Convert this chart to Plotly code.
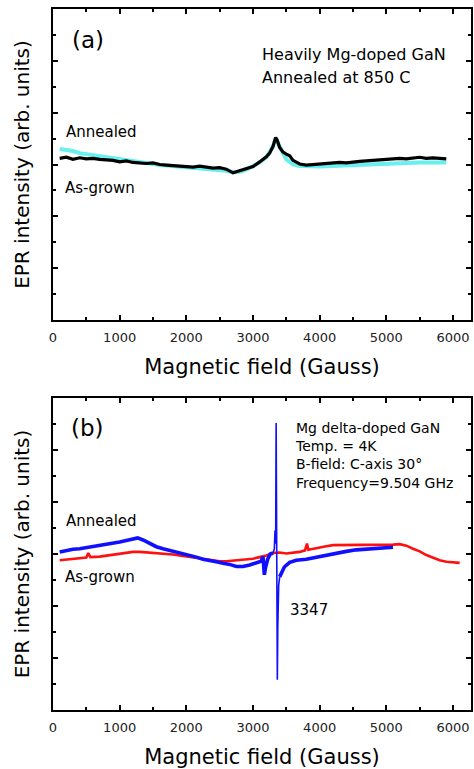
import plotly.graph_objects as go

# ---------------- Panel (a): Heavily Mg-doped GaN ----------------
a_field_asgrown = [100, 200, 300, 400, 500, 600, 700, 800, 900, 1000, 1100, 1200, 1300, 1400,
                   1500, 1600, 1700, 1800, 1900, 2000, 2100, 2200, 2300, 2400, 2500, 2600, 2700,
                   2800, 2900, 3000, 3100, 3200, 3250, 3300, 3340, 3360, 3400, 3450, 3500, 3550,
                   3600, 3700, 3800, 3900, 4000, 4100, 4200, 4300, 4400, 4500, 4600, 4700, 4800,
                   4900, 5000, 5100, 5200, 5300, 5400, 5500, 5600, 5700, 5800, 5900]
a_asgrown = [3.12, 3.14, 3.10, 3.13, 3.11, 3.12, 3.10, 3.09, 3.08, 3.05, 3.07, 3.04, 3.03, 3.02,
             3.03, 3.00, 2.99, 2.98, 2.97, 2.96, 2.95, 2.97, 2.95, 2.93, 2.94, 2.91, 2.84,
             2.88, 2.91, 2.96, 3.05, 3.15, 3.22, 3.35, 3.52, 3.48, 3.33, 3.24, 3.20, 3.17,
             3.08, 3.01, 2.99, 3.00, 3.01, 3.02, 3.03, 3.04, 3.03, 3.05, 3.06, 3.07, 3.08,
             3.09, 3.10, 3.11, 3.12, 3.11, 3.13, 3.14, 3.12, 3.13, 3.12, 3.11]

a_field_annealed = [100, 200, 300, 400, 500, 600, 700, 800, 900, 1000, 1100, 1200, 1300, 1400,
                    1500, 1600, 1700, 1800, 1900, 2000, 2200, 2400, 2600, 2700, 2800, 2900,
                    3000, 3100, 3200, 3300, 3340, 3380, 3450, 3500, 3600, 3700, 4000, 4500,
                    5000, 5500, 5900]
a_annealed = [3.30, 3.28, 3.26, 3.22, 3.20, 3.18, 3.17, 3.14, 3.12, 3.10, 3.08, 3.06, 3.04, 3.02,
              3.00, 2.99, 2.98, 2.97, 2.96, 2.95, 2.93, 2.90, 2.88, 2.85, 2.86, 2.90,
              2.96, 3.04, 3.14, 3.35, 3.50, 3.40, 3.20, 3.10, 3.00, 2.97, 2.96, 2.99,
              3.02, 3.04, 3.04]

# ---------------- Panel (b): Mg delta-doped GaN ----------------
b_field_annealed = [100, 200, 300, 400, 500, 600, 700, 800, 900, 1000, 1100, 1200, 1270, 1350,
                    1450, 1550, 1650, 1750, 1850, 1950, 2050, 2150, 2250, 2350, 2450, 2550,
                    2650, 2750, 2850, 2950, 3050, 3120, 3150, 3170, 3190, 3220, 3260, 3300,
                    3320, 3330, 3340, 3347, 3356, 3365, 3372, 3385, 3400, 3430, 3470, 3550,
                    3650, 3800, 3950, 4100, 4250, 4400, 4550, 4700, 4850, 5000, 5100]
b_annealed = [3.04, 3.07, 3.09, 3.10, 3.12, 3.14, 3.17, 3.19, 3.21, 3.23, 3.26, 3.29, 3.31, 3.27,
              3.20, 3.14, 3.10, 3.07, 3.04, 3.00, 2.97, 2.94, 2.90, 2.88, 2.85, 2.82,
              2.80, 2.76, 2.76, 2.79, 2.83, 2.86, 2.95, 2.60, 2.75, 2.90, 3.00, 3.02,
              3.10, 3.45, 3.20, 5.52, 3.00, 0.58, 1.60, 2.40, 2.56, 2.66, 2.75, 2.84,
              2.88, 2.90, 2.94, 2.98, 3.02, 3.05, 3.08, 3.09, 3.10, 3.11, 3.13]

b_field_asgrown = [100, 200, 300, 400, 500, 530, 560, 700, 800, 900, 1000, 1100, 1200, 1300,
                   1400, 1500, 1600, 1700, 1800, 1900, 2000, 2100, 2200, 2300, 2400, 2500,
                   2600, 2700, 2800, 2900, 3000, 3100, 3200, 3300, 3400, 3500, 3600, 3700,
                   3780, 3810, 3830, 3900, 4000, 4100, 4200, 4400, 4600, 4800, 5000, 5100,
                   5200, 5300, 5400, 5500, 5600, 5700, 5800, 5900, 6000, 6100]
b_asgrown = [2.88, 2.89, 2.90, 2.91, 2.93, 3.02, 2.94, 2.95, 2.97, 2.98, 3.00, 3.02, 3.04, 3.04,
             3.03, 3.03, 3.02, 3.00, 2.99, 2.97, 2.95, 2.93, 2.91, 2.89, 2.87, 2.86,
             2.86, 2.87, 2.88, 2.89, 2.91, 2.94, 2.97, 3.02, 3.03, 3.01, 3.02, 3.04,
             3.07, 3.20, 3.08, 3.10, 3.13, 3.15, 3.17, 3.17, 3.17, 3.17, 3.17, 3.18,
             3.19, 3.16, 3.10, 3.05, 2.98, 2.93, 2.88, 2.85, 2.84, 2.83]

b_info_lines = ["Mg delta-doped GaN", "Temp. = 4K", "B-field: C-axis 30°", "Frequency=9.504 GHz"]

x_ticks = [0, 1000, 2000, 3000, 4000, 5000, 6000]
x_range = [0, 6270]
y_range = [0, 6]

FONT = "DejaVu Sans"

fig = go.Figure()
fig.add_trace(go.Scatter(x=a_field_annealed, y=a_annealed, mode="lines",
                         line=dict(color="#66f0f0", width=4), xaxis="x", yaxis="y"))
fig.add_trace(go.Scatter(x=a_field_asgrown, y=a_asgrown, mode="lines",
                         line=dict(color="black", width=3.2), xaxis="x", yaxis="y"))
fig.add_trace(go.Scatter(x=b_field_asgrown, y=b_asgrown, mode="lines",
                         line=dict(color="#ff1010", width=2.6), xaxis="x2", yaxis="y2"))

# blue (annealed) trace: broad parts drawn thicker (noise band), narrow spike drawn thin
i0 = b_field_annealed.index(3300)
i1 = b_field_annealed.index(3400)
blue_parts = [(0, i0 + 1, 3.6), (i0, i1 + 1, 1.6), (i1, len(b_field_annealed), 3.6)]
for s, e, w in blue_parts:
    fig.add_trace(go.Scatter(x=b_field_annealed[s:e], y=b_annealed[s:e], mode="lines",
                             line=dict(color="#1010ff", width=w), xaxis="x2", yaxis="y2"))

xcommon = dict(range=x_range, tickvals=x_ticks, ticktext=[str(v) for v in x_ticks],
               ticks="inside", ticklen=5, tickwidth=1.5, tickcolor="black",
               showline=True, linecolor="black", linewidth=2, mirror="ticks",
               showgrid=False, zeroline=False, ticklabelstandoff=4,
               minor=dict(dtick=500, tick0=0, ticks="inside", ticklen=3, tickcolor="black"),
               tickfont=dict(family=FONT, size=13, color="#222"),
               title=dict(text="Magnetic field (Gauss)", font=dict(family=FONT, size=21, color="black"),
                          standoff=16))
ycommon = dict(range=y_range, dtick=1, tick0=0, showticklabels=False,
               ticks="inside", ticklen=5, tickwidth=1.5, tickcolor="black",
               showline=True, linecolor="black", linewidth=2, mirror="ticks",
               showgrid=False, zeroline=False,
               minor=dict(dtick=0.5, tick0=0, ticks="inside", ticklen=3, tickcolor="black"),
               title=dict(text="EPR intensity (arb. units)", font=dict(family=FONT, size=20, color="black"),
                          standoff=16))

fig.update_layout(
    width=474, height=769,
    margin=dict(l=53, r=1, t=9, b=59),
    paper_bgcolor="white", plot_bgcolor="white",
    showlegend=False,
    xaxis=dict(**xcommon, anchor="y"),
    yaxis=dict(**ycommon, domain=[0.5563, 1.0], anchor="x"),
    xaxis2=dict(**xcommon, anchor="y2"),
    yaxis2=dict(**ycommon, domain=[0.0, 0.4451], anchor="x2"),
)

def ann(text, x, y, xref, yref, size=14, xanchor="left", yanchor="middle"):
    fig.add_annotation(text=text, x=x, y=y, xref=xref, yref=yref, showarrow=False,
                       xanchor=xanchor, yanchor=yanchor, align="left",
                       font=dict(family=FONT, size=size, color="black"))

# Panel (a) texts
ann("(a)", 250, 5.4, "x", "y", size=23)
ann("Heavily Mg-doped GaN", 3110, 5.13, "x", "y", size=16)
ann("Annealed at 850 C", 3110, 4.67, "x", "y", size=16)
ann("Annealed", 170, 3.62, "x", "y", size=15)
ann("As-grown", 150, 2.55, "x", "y", size=15)

# Panel (b) texts
ann("(b)", 240, 5.42, "x2", "y2", size=23)
ann("<br>".join(b_info_lines), 3600, 5.62, "x2", "y2", size=14, yanchor="top")
ann("Annealed", 170, 3.63, "x2", "y2", size=15)
ann("As-grown", 150, 2.56, "x2", "y2", size=15)
ann("3347", 3530, 1.92, "x2", "y2", size=15)

fig.write_html("out.html")
